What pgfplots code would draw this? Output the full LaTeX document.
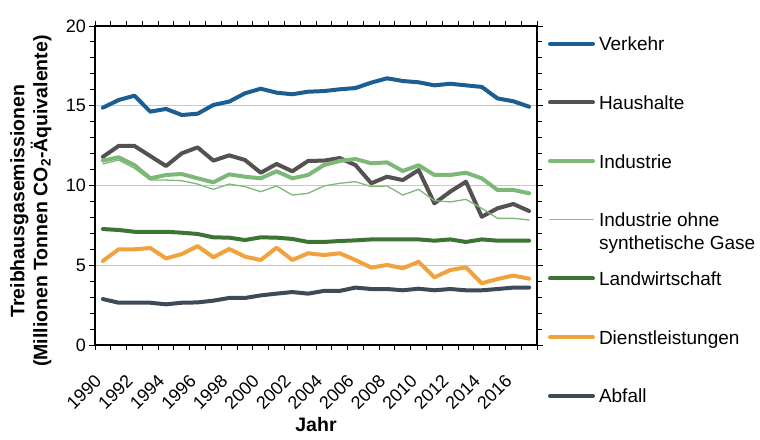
\documentclass[border=0pt]{standalone}
\usepackage{fontspec}
\setmainfont{Liberation Sans}
\usepackage{pgfplots}
\pgfplotsset{compat=1.18}
\definecolor{cVer}{HTML}{1B5E93}
\definecolor{cHau}{HTML}{555150}
\definecolor{cInd}{HTML}{7DB878}
\definecolor{cLan}{HTML}{3C7533}
\definecolor{cDie}{HTML}{F2A23C}
\definecolor{cAbf}{HTML}{3F4A57}
\definecolor{cGrid}{HTML}{CFC8C0}
\begin{document}
\begin{tikzpicture}
\useasboundingbox (-95bp,-95bp) rectangle (665bp,345bp);
\begin{axis}[
  at={(0,0)}, anchor=south west,
  scale only axis, width=442bp, height=319bp,
  xmin=1989.5, xmax=2017.5, ymin=0, ymax=20,
  xtick={1990,1992,...,2016},
  minor xtick={1989.5,1990.5,...,2017.5},
  ytick={0,5,10,15,20},
  minor ytick={1,2,3,4,6,7,8,9,11,12,13,14,16,17,18,19},
  tick align=outside,
  xtick style={draw=none},
  minor x tick style={draw=black, line width=0.9bp},
  ytick style={draw=black, line width=0.9bp},
  major tick length=6bp, minor tick length=5bp,
  axis line style={line width=1.1bp},
  ymajorgrids, grid style={cGrid, line width=1.1bp},
  /pgf/number format/assume math mode=true,
  /pgf/number format/1000 sep={},
  tick label style={font=\fontsize{18bp}{21bp}\selectfont},
  xticklabel style={xshift=-4bp, yshift=-26bp, rotate=45, anchor=east, inner sep=1bp},
  yticklabel style={inner sep=3bp},
  xlabel={Jahr},
  ylabel={Treibhausgasemissionen\\(Millionen Tonnen CO\textsubscript{2}-Äquivalente)},
  label style={font=\bfseries\fontsize{19.5bp}{23bp}\selectfont},
  xlabel style={at={(axis description cs:0.5,-0.25)}, anchor=center},
  ylabel style={at={(axis description cs:-0.145,0.451)}, anchor=center, align=center},
  legend cell align=left,
  legend style={at={(axis description cs:1.0249,0.9665)}, anchor=north west,
    draw=none, fill=none, inner sep=0pt, outer sep=0pt,
    row sep=17.7bp, column sep=4bp,
    font=\fontsize{19bp}{23bp}\selectfont,
    cells={anchor=base west},
    nodes={inner sep=0pt, text height=14bp, text depth=27bp}},
  legend image code/.code={\draw[#1] (0bp,7bp) -- (43bp,7bp);},
  every axis plot/.append style={line join=round, line cap=round},
]
\addplot[cVer, line width=4bp] coordinates {
(1990,14.88)(1991,15.36)(1992,15.63)(1993,14.63)(1994,14.80)(1995,14.42)(1996,14.50)
(1997,15.05)(1998,15.26)(1999,15.78)(2000,16.07)(2001,15.82)(2002,15.72)(2003,15.88)
(2004,15.92)(2005,16.03)(2006,16.11)(2007,16.45)(2008,16.72)(2009,16.55)(2010,16.47)
(2011,16.28)(2012,16.38)(2013,16.28)(2014,16.18)(2015,15.46)(2016,15.28)(2017,14.94)};
\addlegendentry{Verkehr}
\addplot[cHau, line width=4bp] coordinates {
(1990,11.80)(1991,12.48)(1992,12.48)(1993,11.85)(1994,11.22)(1995,12.02)(1996,12.39)
(1997,11.56)(1998,11.89)(1999,11.60)(2000,10.80)(2001,11.35)(2002,10.89)(2003,11.54)
(2004,11.56)(2005,11.72)(2006,11.28)(2007,10.14)(2008,10.55)(2009,10.34)(2010,10.97)
(2011,8.88)(2012,9.61)(2013,10.24)(2014,8.04)(2015,8.57)(2016,8.84)(2017,8.40)};
\addlegendentry{Haushalte}
\addplot[cInd, line width=4bp] coordinates {
(1990,11.56)(1991,11.77)(1992,11.28)(1993,10.45)(1994,10.66)(1995,10.72)(1996,10.45)
(1997,10.20)(1998,10.70)(1999,10.55)(2000,10.45)(2001,10.89)(2002,10.45)(2003,10.66)
(2004,11.28)(2005,11.54)(2006,11.66)(2007,11.39)(2008,11.45)(2009,10.91)(2010,11.27)
(2011,10.66)(2012,10.66)(2013,10.80)(2014,10.45)(2015,9.72)(2016,9.72)(2017,9.51)};
\addlegendentry{Industrie}
\addplot[cInd, line width=1.3bp] coordinates {
(1990,11.35)(1991,11.60)(1992,11.08)(1993,10.34)(1994,10.34)(1995,10.30)(1996,10.09)
(1997,9.76)(1998,10.09)(1999,9.93)(2000,9.61)(2001,9.97)(2002,9.40)(2003,9.51)
(2004,9.97)(2005,10.14)(2006,10.24)(2007,9.93)(2008,9.97)(2009,9.40)(2010,9.76)
(2011,9.05)(2012,8.97)(2013,9.13)(2014,8.57)(2015,7.94)(2016,7.94)(2017,7.84)};
\addlegendentry{\parbox[t]{170bp}{Industrie ohne\\synthetische Gase}}
\addplot[cLan, line width=4bp] coordinates {
(1990,7.27)(1991,7.21)(1992,7.10)(1993,7.10)(1994,7.10)(1995,7.04)(1996,6.96)
(1997,6.75)(1998,6.73)(1999,6.58)(2000,6.75)(2001,6.73)(2002,6.65)(2003,6.46)
(2004,6.46)(2005,6.52)(2006,6.56)(2007,6.62)(2008,6.62)(2009,6.62)(2010,6.62)
(2011,6.54)(2012,6.62)(2013,6.46)(2014,6.62)(2015,6.54)(2016,6.54)(2017,6.54)};
\addlegendentry{Landwirtschaft}
\addplot[cDie, line width=4bp] coordinates {
(1990,5.27)(1991,6.00)(1992,6.00)(1993,6.08)(1994,5.43)(1995,5.70)(1996,6.20)
(1997,5.50)(1998,6.02)(1999,5.54)(2000,5.33)(2001,6.10)(2002,5.33)(2003,5.75)
(2004,5.64)(2005,5.75)(2006,5.33)(2007,4.85)(2008,5.02)(2009,4.81)(2010,5.22)
(2011,4.24)(2012,4.70)(2013,4.87)(2014,3.87)(2015,4.14)(2016,4.35)(2017,4.16)};
\addlegendentry{Dienstleistungen}
\addplot[cAbf, line width=4bp] coordinates {
(1990,2.88)(1991,2.65)(1992,2.65)(1993,2.65)(1994,2.55)(1995,2.65)(1996,2.67)
(1997,2.78)(1998,2.95)(1999,2.95)(2000,3.11)(2001,3.22)(2002,3.32)(2003,3.22)
(2004,3.39)(2005,3.39)(2006,3.60)(2007,3.51)(2008,3.51)(2009,3.43)(2010,3.53)
(2011,3.43)(2012,3.51)(2013,3.43)(2014,3.43)(2015,3.51)(2016,3.60)(2017,3.60)};
\addlegendentry{Abfall}
\end{axis}
\end{tikzpicture}
\end{document}
